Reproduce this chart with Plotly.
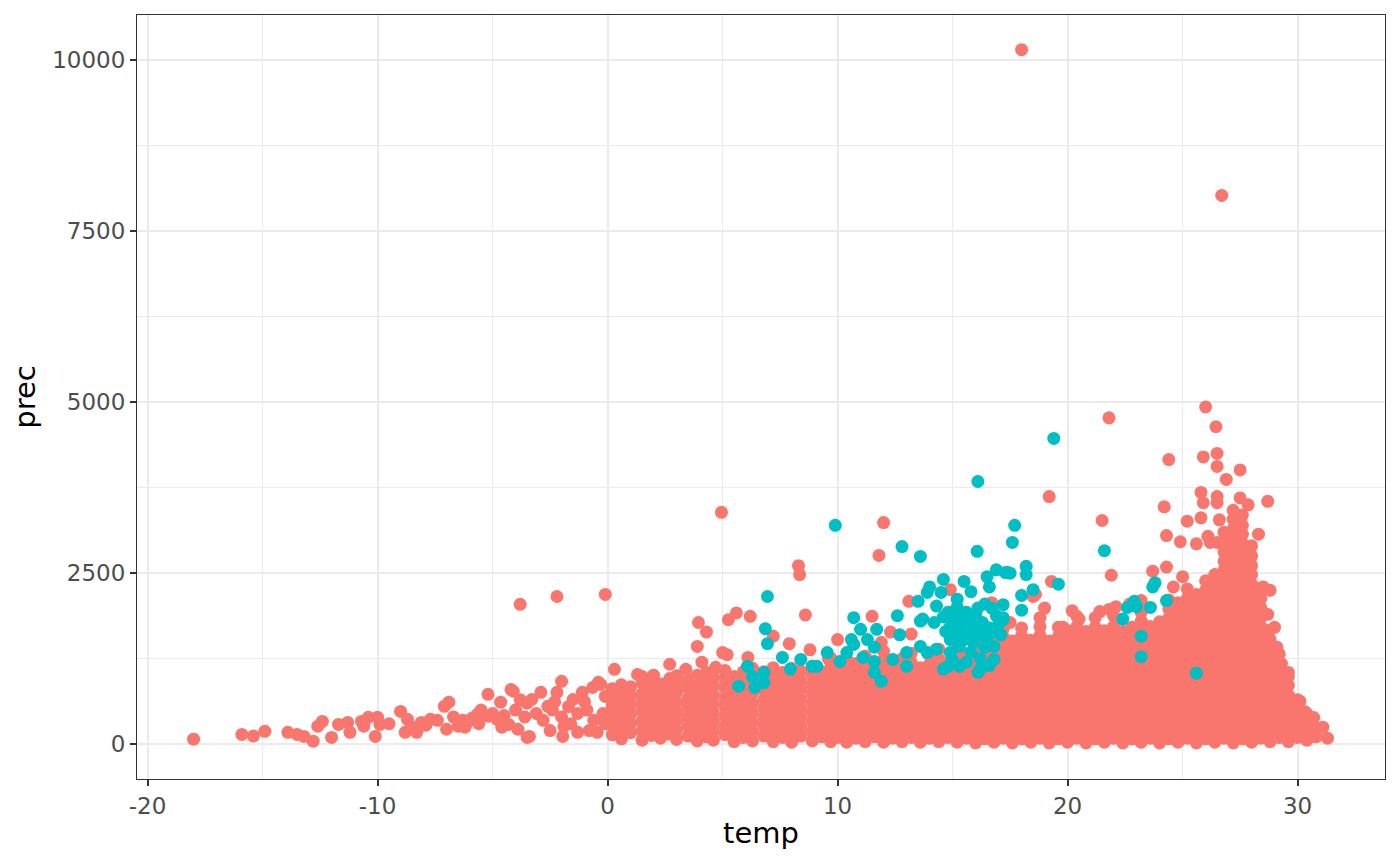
import plotly.graph_objects as go

# ---- data (temp, prec) ----

# cold tail, temp below 0
cold_tail = [(-18.0, 75), (-15.9, 145), (-15.4, 120), (-14.9, 190), (-13.9, 175), (-13.5, 145),
             (-13.2, 115), (-12.8, 45), (-12.4, 335), (-12.6, 265), (-12.0, 100), (-11.7, 290),
             (-11.3, 320), (-11.2, 175), (-10.7, 335), (-10.6, 265), (-10.4, 395), (-10.0, 395),
             (-9.9, 290), (-10.1, 115), (-9.5, 300), (-9.0, 480), (-8.7, 365), (-8.8, 175),
             (-8.5, 250), (-8.3, 175), (-8.1, 320), (-7.9, 280), (-7.7, 365), (-7.4, 350),
             (-7.1, 555), (-6.9, 615), (-7.0, 220), (-6.7, 400), (-6.5, 265), (-6.3, 350),
             (-6.2, 250), (-6.1, 320), (-5.9, 380), (-5.65, 440), (-5.6, 300), (-5.5, 500),
             (-5.2, 730), (-5.2, 410), (-5.0, 450), (-4.8, 365), (-4.65, 615), (-4.6, 250),
             (-4.5, 420), (-4.3, 290), (-4.2, 800), (-4.1, 775), (-4.0, 500), (-3.9, 220),
             (-3.8, 650), (-3.6, 400), (-3.5, 600), (-3.5, 100), (-3.4, 115), (-3.3, 655),
             (-3.1, 450), (-2.9, 760), (-2.8, 350), (-2.6, 555), (-2.5, 200), (-2.4, 500),
             (-2.3, 620), (-2.2, 760), (-2.0, 920), (-2.0, 400), (-1.95, 115), (-1.9, 260),
             (-1.7, 550), (-1.6, 300), (-1.5, 655), (-1.3, 450), (-1.3, 175), (-1.1, 760),
             (-1.0, 620), (-0.9, 500), (-0.8, 200), (-0.65, 830), (-0.6, 350), (-0.45, 175),
             (-0.4, 905), (-0.3, 875), (-0.2, 450), (-0.1, 700), (-0.1, 300),
             (-3.8, 2045), (-2.2, 2160), (-0.1, 2190)]

# dense band 0..9 C, one column of prec values per temp
cool_temp = [0.2, 0.6, 1.0, 1.5, 1.9, 2.3, 2.7, 3.0, 3.5, 3.9, 4.3,
             4.6, 5.1, 5.5, 5.9, 6.3, 6.8, 7.2, 7.6, 8.0, 8.4, 8.9]
cool_prec = [
    [140, 290, 400, 560, 690, 810],
    [80, 230, 350, 480, 620, 760, 870],
    [170, 300, 440, 570, 700, 840],
    [60, 200, 340, 480, 610, 740, 900],
    [130, 270, 390, 540, 660, 800, 930],
    [90, 220, 370, 500, 650, 770, 880],
    [150, 280, 420, 550, 700, 820, 960],
    [70, 210, 340, 470, 610, 760, 880, 1000],
    [120, 270, 400, 540, 670, 820, 940],
    [50, 190, 330, 470, 600, 730, 870, 1010],
    [110, 240, 390, 520, 650, 790, 930, 1050],
    [60, 200, 330, 460, 600, 720, 860, 990],
    [140, 270, 410, 550, 680, 820, 950, 1080],
    [40, 180, 310, 440, 580, 720, 850, 990],
    [100, 240, 370, 510, 650, 790, 910, 1060],
    [50, 180, 320, 460, 600, 740, 870, 1000, 1110],
    [120, 260, 390, 530, 660, 800, 940, 1060],
    [40, 180, 310, 450, 590, 730, 860, 990, 1120],
    [100, 230, 370, 510, 640, 780, 920, 1050],
    [30, 170, 300, 440, 580, 710, 850, 980, 1110],
    [120, 250, 390, 520, 660, 800, 930, 1070],
    [50, 190, 330, 470, 600, 740, 870, 1010, 1140],
]

# dense band 9..18 C
mild_temp = [9.3, 9.7, 10.0, 10.4, 10.8, 11.2, 11.6, 12.0, 12.4, 12.8, 13.2,
             13.6, 14.0, 14.4, 14.8, 15.2, 15.6, 16.0, 16.4, 16.8, 17.2, 17.6]
mild_prec = [
    [110, 250, 380, 520, 660, 790, 930, 1060],
    [40, 170, 310, 450, 590, 720, 860, 990, 1130, 1260],
    [100, 230, 370, 510, 640, 780, 910, 1050],
    [30, 160, 300, 440, 570, 710, 850, 980, 1110, 1240],
    [90, 220, 360, 500, 630, 770, 900, 1040, 1180],
    [40, 170, 310, 440, 580, 720, 850, 990, 1120, 1290],
    [110, 240, 380, 510, 650, 790, 920, 1060],
    [30, 160, 300, 430, 570, 710, 840, 980, 1110, 1230, 1360],
    [90, 230, 360, 500, 640, 770, 910, 1040, 1170],
    [40, 170, 310, 440, 580, 720, 850, 990, 1120, 1250],
    [100, 240, 370, 510, 650, 780, 920, 1050, 1190, 1330],
    [30, 160, 300, 440, 570, 710, 840, 980, 1120],
    [90, 220, 360, 500, 630, 770, 900, 1040, 1170, 1300],
    [40, 170, 310, 440, 580, 720, 850, 990, 1120, 1250, 1390],
    [100, 230, 370, 510, 640, 780, 910, 1050, 1190],
    [30, 160, 300, 430, 570, 710, 840, 980, 1110, 1250, 1380],
    [90, 220, 360, 490, 630, 770, 900, 1040, 1170, 1310],
    [20, 150, 290, 430, 560, 700, 830, 970, 1110, 1240, 1370, 1490],
    [80, 220, 350, 490, 630, 760, 900, 1030, 1170, 1300],
    [30, 160, 300, 430, 570, 700, 840, 980, 1110, 1250, 1380, 1500],
    [90, 230, 360, 500, 640, 770, 910, 1040, 1180, 1310, 1450, 1570, 1690],
    [20, 150, 290, 430, 560, 700, 830, 970, 1100, 1240, 1380, 1510],
]

# dense band 18..31 C, with the spike near 27-28 C
warm_temp = [18.0, 18.4, 18.8, 19.2, 19.6, 20.0, 20.4, 20.8, 21.2, 21.6, 22.0,
             22.4, 22.8, 23.2, 23.6, 24.0, 24.4, 24.8, 25.2, 25.6, 26.0, 26.4,
             26.8, 27.2, 27.6, 28.0, 28.4, 28.8, 29.2, 29.6, 30.0, 30.4, 30.8]
warm_prec = [
    [80, 220, 350, 490, 630, 760, 900, 1030, 1170, 1300, 1440, 1580, 1700],
    [30, 160, 300, 440, 570, 710, 840, 980, 1120, 1250, 1390, 1520],
    [90, 230, 360, 500, 640, 770, 910, 1040, 1180, 1320, 1450, 1590, 1720, 1850],
    [20, 150, 290, 420, 560, 700, 830, 970, 1100, 1240, 1380, 1510],
    [80, 210, 350, 490, 620, 760, 890, 1030, 1170, 1300, 1440, 1570, 1710],
    [30, 170, 300, 440, 580, 710, 850, 980, 1120, 1260, 1390, 1530, 1660],
    [90, 220, 360, 500, 630, 770, 900, 1040, 1180, 1310, 1450, 1580, 1720, 1870],
    [20, 160, 290, 430, 570, 700, 840, 970, 1110, 1250, 1380, 1520, 1650],
    [80, 210, 350, 480, 620, 760, 890, 1030, 1160, 1300, 1440, 1570, 1710, 1850],
    [30, 160, 300, 440, 570, 710, 840, 980, 1120, 1250, 1390, 1520, 1660],
    [90, 220, 360, 490, 630, 770, 900, 1040, 1170, 1310, 1450, 1580, 1720, 1880],
    [20, 150, 290, 430, 560, 700, 830, 970, 1110, 1240, 1380, 1510, 1650],
    [80, 210, 350, 490, 620, 760, 890, 1030, 1170, 1300, 1440, 1570, 1710],
    [30, 170, 300, 440, 580, 710, 850, 980, 1120, 1260, 1390, 1530, 1660, 1800, 1930],
    [90, 220, 360, 500, 630, 770, 900, 1040, 1180, 1310, 1450, 1580, 1720],
    [20, 160, 290, 430, 570, 700, 840, 970, 1110, 1250, 1380, 1520, 1650, 1790],
    [80, 210, 350, 480, 620, 760, 890, 1030, 1160, 1300, 1440, 1570, 1710, 1840, 1980, 2110],
    [30, 160, 300, 440, 570, 710, 840, 980, 1120, 1250, 1390, 1520, 1660, 1800, 1930, 2070],
    [90, 220, 360, 490, 630, 770, 900, 1040, 1170, 1310, 1450, 1580, 1720, 1850, 1990, 2130, 2270],
    [20, 150, 290, 430, 560, 700, 830, 970, 1110, 1240, 1380, 1510, 1650, 1790, 1920, 2060, 2190],
    [80, 210, 350, 490, 620, 760, 890, 1030, 1170, 1300, 1440, 1570, 1710, 1850, 1980, 2120, 2250, 2390],
    [30, 170, 300, 440, 580, 710, 850, 980, 1120, 1260, 1390, 1530, 1660, 1800, 1940, 2070, 2210,
     2340, 2480],
    [90, 220, 360, 500, 630, 770, 900, 1040, 1180, 1310, 1450, 1580, 1720, 1860, 1990, 2130, 2260,
     2400, 2540, 2670, 2810, 2950, 3100],
    [20, 160, 290, 430, 570, 700, 840, 970, 1110, 1250, 1380, 1520, 1650, 1790, 1930, 2060, 2200,
     2330, 2470, 2610, 2740, 2880, 3010, 3150, 3290, 3420],
    [80, 210, 350, 480, 620, 760, 890, 1030, 1160, 1300, 1440, 1570, 1710, 1840, 1980, 2120, 2250,
     2390, 2520, 2660, 2800, 2930, 3070, 3200, 3350],
    [30, 160, 300, 440, 570, 710, 840, 980, 1120, 1250, 1390, 1520, 1660, 1800, 1930, 2070, 2200,
     2340, 2480, 2610, 2750, 2900],
    [90, 220, 360, 490, 630, 770, 900, 1040, 1170, 1310, 1450, 1580, 1720, 1850, 1990, 2130, 2280],
    [40, 170, 310, 440, 580, 720, 850, 990, 1120, 1260, 1400, 1530, 1670],
    [100, 230, 370, 510, 640, 780, 910, 1050, 1190, 1320],
    [40, 180, 310, 450, 590, 720, 860, 990],
    [100, 240, 370, 510, 650],
    [60, 200, 330, 450],
    [110, 240],
]

# scattered points above the dense band
fringe = [(0.3, 1095), (1.3, 1020), (1.5, 990), (2.0, 1010), (2.7, 1170), (3.4, 1095),
          (3.9, 1430), (3.95, 1780), (4.1, 1200), (4.3, 1640), (4.7, 1125), (4.95, 3390),
          (5.0, 1340), (5.2, 1310), (5.25, 1820), (5.6, 1920), (6.1, 1270), (6.2, 1870),
          (7.2, 1580), (7.9, 1470), (8.3, 2610), (8.35, 2480), (8.6, 1890), (8.8, 1380),
          (9.6, 1250), (10.0, 1530), (11.5, 1870), (11.8, 2760), (11.9, 1490), (12.0, 3240),
          (12.3, 1640), (13.1, 2090), (13.2, 1610), (14.9, 2260), (16.7, 2070), (17.5, 1780),
          (18.0, 10150), (18.5, 2160), (18.6, 2190), (19.2, 3620), (19.3, 2380), (19.8, 1710),
          (20.5, 1830), (21.4, 1940), (21.5, 3270), (21.8, 4770), (21.8, 1970), (21.9, 2470),
          (22.7, 2050), (23.2, 2100), (23.7, 2530), (24.2, 3470), (24.3, 3050), (24.3, 2590),
          (24.4, 4160), (24.6, 2300), (24.9, 2960), (25.0, 2450), (25.2, 3260), (25.6, 2930),
          (25.8, 3680), (25.9, 3530), (25.8, 3310), (25.9, 4200), (26.0, 4930), (26.1, 3040),
          (26.2, 2950), (26.45, 4640), (26.5, 4250), (26.5, 4060), (26.5, 3620), (26.5, 3530),
          (26.6, 3280), (26.5, 2950), (26.7, 8020), (26.9, 3870), (27.5, 4010), (27.5, 3600),
          (27.85, 3500), (28.3, 3070), (28.5, 2300), (28.7, 3550), (28.7, 1900), (28.8, 2250),
          (29.0, 1710), (29.1, 1420), (29.3, 1180), (29.6, 1050), (30.1, 630), (30.3, 480),
          (30.7, 390), (31.1, 250), (31.3, 90), (19.0, 1990), (20.2, 1950), (22.1, 2010)]

# second group (teal)
teal = [(19.4, 4470), (16.1, 3840), (9.9, 3200), (12.8, 2890), (13.6, 2745), (16.07, 2820),
        (17.7, 3200), (17.6, 2950), (21.6, 2830), (19.6, 2340), (18.5, 2260), (18.2, 2600),
        (18.2, 2480), (18.0, 2175), (18.0, 1960), (16.9, 2550), (17.4, 2510), (16.5, 2450),
        (16.6, 2300), (15.5, 2380), (14.6, 2410), (14.0, 2300), (13.9, 2220), (14.5, 2220),
        (15.8, 2230), (15.2, 2120), (14.3, 2020), (13.5, 2090), (12.6, 1880), (13.6, 1800),
        (12.7, 1600), (6.95, 2160), (6.86, 1690), (6.95, 1470), (6.08, 1140), (5.7, 850),
        (6.4, 830), (6.8, 1050), (6.3, 990), (6.8, 900), (7.6, 1270), (7.95, 1100),
        (8.4, 1240), (8.9, 1140), (9.1, 1140), (9.55, 1340), (10.1, 1210), (10.4, 1340),
        (10.7, 1460), (10.7, 1850), (10.6, 1530), (11.0, 1680), (11.3, 1530), (11.7, 1680),
        (11.1, 1270), (11.6, 1210), (11.6, 1050), (11.9, 920), (11.6, 1420), (12.4, 1240),
        (13.0, 1140), (13.0, 1340), (13.6, 1430), (13.9, 1340), (14.3, 1390), (14.9, 1340),
        (14.6, 1100), (15.3, 1140), (14.8, 1930), (15.0, 1820), (15.6, 1930), (15.9, 1720),
        (16.2, 1640), (16.5, 1530), (16.8, 1430), (16.9, 1640), (17.2, 2040), (17.2, 1820),
        (16.2, 1100), (16.8, 1240), (14.9, 1530), (15.6, 1640), (15.3, 1430), (15.9, 1490),
        (15.0, 1930), (15.3, 1720), (17.3, 2510), (17.5, 2500), (17.2, 1850), (17.1, 1600),
        (23.7, 2300), (23.8, 2360), (22.6, 2000), (22.9, 2090), (23.0, 2010), (23.6, 2000),
        (24.3, 2100), (22.4, 1830), (23.2, 1580), (23.2, 1280), (25.6, 1040), (14.2, 1780),
        (13.7, 1830), (14.8, 1140), (16.1, 1050), (14.7, 1650), (15.1, 1580), (15.4, 1870),
        (15.7, 1820), (16.0, 1900), (16.3, 1780), (16.6, 1700), (14.9, 1720), (15.5, 1530),
        (16.0, 1580), (16.4, 1420), (15.8, 1350), (16.2, 1250), (15.0, 1230), (15.6, 1200),
        (16.6, 1150), (16.1, 1990), (16.4, 2050), (15.2, 2000), (14.6, 1860), (16.9, 1880),
        (17.0, 1760), (16.7, 1990)]

x_ticks = [-20, -10, 0, 10, 20, 30]
x_labels = ["-20", "-10", "0", "10", "20", "30"]
y_ticks = [0, 2500, 5000, 7500, 10000]
y_labels = ["0", "2500", "5000", "7500", "10000"]

# build the red series
red_x, red_y = [], []
for t, p in cold_tail:
    red_x.append(t); red_y.append(p)
for temps, precs in [(cool_temp, cool_prec), (mild_temp, mild_prec), (warm_temp, warm_prec)]:
    for t, col in zip(temps, precs):
        for p in col:
            red_x.append(t); red_y.append(p)
for t, p in fringe:
    red_x.append(t); red_y.append(p)

teal_x = [t for t, p in teal]
teal_y = [p for t, p in teal]

fig = go.Figure()
fig.add_trace(go.Scatter(x=red_x, y=red_y, mode="markers",
                         marker=dict(color="#F8766D", size=13, line=dict(width=0)),
                         showlegend=False))
fig.add_trace(go.Scatter(x=teal_x, y=teal_y, mode="markers",
                         marker=dict(color="#00BFC4", size=13, line=dict(width=0)),
                         showlegend=False))

axis_common = dict(
    ticks="outside", ticklen=6, tickwidth=2, tickcolor="#333333",
    tickfont=dict(family="DejaVu Sans", size=23, color="#4D4D4D"),
    showgrid=True, gridcolor="#EBEBEB", gridwidth=2,
    showline=True, linecolor="#333333", linewidth=1, mirror=True,
    zeroline=False,
)

fig.update_xaxes(range=[-20.46, 33.8], tickmode="array", tickvals=x_ticks, ticktext=x_labels,
                 minor=dict(tickvals=[-15, -5, 5, 15, 25], showgrid=True,
                            gridcolor="#EBEBEB", gridwidth=1, ticks=""),
                 title=dict(text="temp", font=dict(family="DejaVu Sans", size=29, color="black"),
                            standoff=5),
                 **axis_common)
fig.update_yaxes(range=[-507, 10657], tickmode="array", tickvals=y_ticks, ticktext=y_labels,
                 minor=dict(tickvals=[1250, 3750, 6250, 8750], showgrid=True,
                            gridcolor="#EBEBEB", gridwidth=1, ticks=""),
                 title=dict(text="prec", font=dict(family="DejaVu Sans", size=29, color="black"),
                            standoff=10),
                 **axis_common)

# page body keeps an 8px margin, so the figure is sized to sit inside it
fig.update_layout(width=1384, height=849, margin=dict(l=129, r=7, t=7, b=78),
                  plot_bgcolor="white", paper_bgcolor="white",
                  font=dict(family="DejaVu Sans"))

fig.write_html("out.html")
